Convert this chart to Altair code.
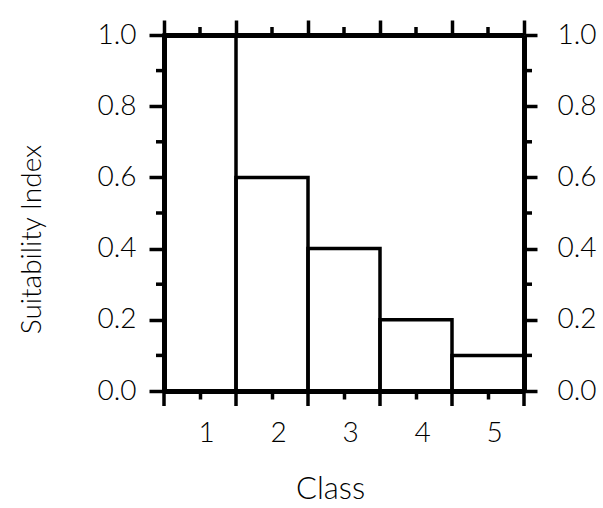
import altair as alt
import pandas as pd

# Data
classes = [1, 2, 3, 4, 5]
suitability = [1.0, 0.6, 0.4, 0.2, 0.1]
y_major = [0.0, 0.2, 0.4, 0.6, 0.8, 1.0]
y_minor = [0.1, 0.3, 0.5, 0.7, 0.9]
class_edges = [0.5, 1.5, 2.5, 3.5, 4.5, 5.5]

df = pd.DataFrame({"cls": classes, "value": suitability})
minor_df = pd.DataFrame({"v": y_minor})
center_df = pd.DataFrame({"c": classes})
edge_df = pd.DataFrame({"e": class_edges})

W, H = 360, 356
FONT = "Lato"

xs = alt.Scale(domain=[0.5, 5.5], nice=False, zero=False)
ys = alt.Scale(domain=[0, 1], nice=False, zero=False)

bars = alt.Chart(df).transform_calculate(
    lo="datum.cls - 0.5", hi="datum.cls + 0.5"
).mark_rect(fill="white", fillOpacity=0, stroke="black", strokeWidth=3.5).encode(
    x=alt.X("lo:Q", scale=xs,
            axis=alt.Axis(orient="bottom", values=classes, tickSize=8,
                          labelPadding=20, labelFontSize=28, labelOffset=6,
                          title="Class", titleFontSize=31, titlePadding=27,
                          titleX=166)),
    x2="hi:Q",
    y=alt.Y("value:Q", scale=ys,
            axis=alt.Axis(orient="left", values=y_major, format=".1f",
                          tickSize=15, labelPadding=13, labelFontSize=28,
                          title="Suitability Index", titleFontSize=28,
                          titlePadding=50, titleY=204)),
    y2=alt.datum(0),
)

frame = alt.Chart(df).mark_point(opacity=0).encode(
    x=alt.X("cls:Q", scale=xs,
            axis=alt.Axis(orient="top", values=class_edges, tickSize=15,
                          labels=False, title=None)),
    y=alt.Y("value:Q", scale=ys,
            axis=alt.Axis(orient="right", values=y_major, format=".1f",
                          tickSize=13, labelPadding=20, labelFontSize=28,
                          title=None)),
)

rule_style = dict(color="black", strokeWidth=3.5)

left_minor = alt.Chart(minor_df).mark_rule(**rule_style).encode(
    y=alt.Y("v:Q", scale=ys, axis=None), x=alt.value(-8), x2=alt.value(0))
right_minor = alt.Chart(minor_df).mark_rule(**rule_style).encode(
    y=alt.Y("v:Q", scale=ys, axis=None), x=alt.value(W), x2=alt.value(W + 8))
top_minor = alt.Chart(center_df).mark_rule(**rule_style).encode(
    x=alt.X("c:Q", scale=xs, axis=None), y=alt.value(-8), y2=alt.value(0))
bottom_major = alt.Chart(edge_df).mark_rule(**rule_style).encode(
    x=alt.X("e:Q", scale=xs, axis=None), y=alt.value(H), y2=alt.value(H + 15))

chart = alt.layer(
    bars, frame, left_minor, right_minor, top_minor, bottom_major
).resolve_axis(x="independent", y="independent").properties(
    width=W, height=H,
    autosize=alt.AutoSizeParams(type="none"),
    padding={"left": 164, "top": 35, "right": 79, "bottom": 117},
    background="white",
).configure_axis(
    grid=False, domainColor="black", domainWidth=5, tickColor="black",
    tickWidth=3.5, labelColor="black", titleColor="black",
    labelFont=FONT, titleFont=FONT, labelFontWeight=300,
    titleFontWeight=300,
).configure_view(stroke=None)

chart.save("out.html", embed_options={"renderer": "svg", "actions": False})
